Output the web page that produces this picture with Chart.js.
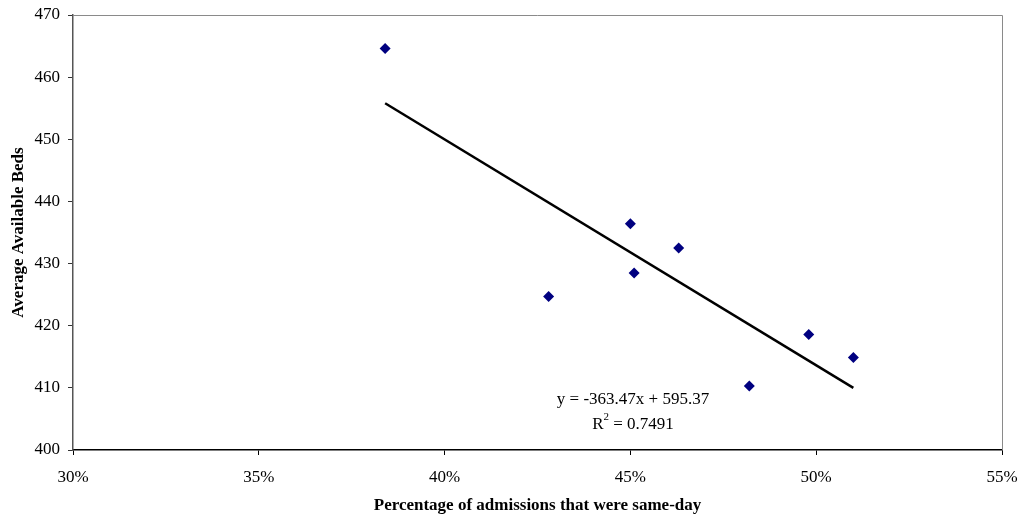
<!DOCTYPE html>
<html>
<head>
<meta charset="utf-8">
<script src="https://cdn.jsdelivr.net/npm/chart.js@4/dist/chart.umd.min.js"></script>
<style>
  html, body { margin: 0; padding: 0; background: #fff; }
  #wrap { width: 1021px; height: 517px; position: relative; }
</style>
</head>
<body>
<div id="wrap"><canvas id="chart"></canvas></div>
<script>
// share of same-day admissions (fraction) vs average available beds
const sameDayShare = [0.384, 0.428, 0.450, 0.451, 0.463, 0.482, 0.498, 0.510];
const availableBeds = [464.6, 424.7, 436.4, 428.5, 432.5, 410.3, 418.6, 414.9];

// linear trendline as reported
const slope = -363.47;
const intercept = 595.37;
const rSquared = '0.7491';

const xMin = 0.30, xMax = 0.55, xStep = 0.05;
const yMin = 400, yMax = 470, yStep = 10;

const serif = "'Liberation Serif', 'Times New Roman', serif";

const points = sameDayShare.map((x, i) => ({ x, y: availableBeds[i] }));
const lo = Math.min(...sameDayShare);
const hi = Math.max(...sameDayShare);
const trend = [lo, hi].map(x => ({ x, y: slope * x + intercept }));

// top and right frame of the plot area, plus the equation label
const framePlugin = {
  id: 'frame',
  afterDraw(chart) {
    const { ctx, chartArea: a, scales } = chart;
    ctx.save();
    ctx.strokeStyle = '#8a8a8a';
    ctx.lineWidth = 1;
    ctx.beginPath();
    ctx.moveTo(a.left, a.top + 0.5);
    ctx.lineTo(a.right + 0.5, a.top + 0.5);
    ctx.lineTo(a.right + 0.5, a.bottom);
    ctx.stroke();

    const cx = scales.x.getPixelForValue(0.4507);
    const y1 = scales.y.getPixelForValue(408.1);
    const y2 = scales.y.getPixelForValue(404.1);
    ctx.fillStyle = '#000';
    ctx.font = `17px ${serif}`;
    ctx.textAlign = 'center';
    ctx.textBaseline = 'middle';
    ctx.fillText(`y = ${slope}x + ${intercept}`, cx, y1);

    const left = 'R', right = ` = ${rSquared}`;
    const wL = ctx.measureText(left).width;
    const wR = ctx.measureText(right).width;
    ctx.font = `11px ${serif}`;
    const wS = ctx.measureText('2').width;
    const start = cx - (wL + wS + wR) / 2;
    ctx.textAlign = 'left';
    ctx.font = `17px ${serif}`;
    ctx.fillText(left, start, y2);
    ctx.fillText(right, start + wL + wS, y2);
    ctx.font = `11px ${serif}`;
    ctx.fillText('2', start + wL, y2 - 7);
    ctx.restore();
  }
};

new Chart(document.getElementById('chart'), {
  type: 'scatter',
  data: {
    datasets: [
      {
        data: points,
        pointStyle: 'rectRot',
        pointRadius: 5.5,
        pointHoverRadius: 5.5,
        backgroundColor: '#000080',
        borderColor: '#000080',
        borderWidth: 0,
        order: 1
      },
      {
        type: 'line',
        data: trend,
        borderColor: '#000',
        borderWidth: 2.5,
        pointRadius: 0,
        fill: false,
        order: 2
      }
    ]
  },
  options: {
    responsive: true,
    maintainAspectRatio: false,
    animation: false,
    layout: { padding: { top: 15, right: 19, left: 0, bottom: 0 } },
    plugins: { legend: { display: false }, tooltip: { enabled: false } },
    scales: {
      x: {
        type: 'linear',
        min: xMin,
        max: xMax,
        afterFit: s => { s.height = 67; s.paddingLeft = 0; s.paddingRight = 0; },
        ticks: {
          stepSize: xStep,
          padding: 12,
          color: '#000',
          font: { family: serif, size: 17 },
          callback: v => Math.round(v * 100) + '%'
        },
        grid: { drawOnChartArea: false, tickLength: 5, color: '#000' },
        border: { color: '#000', width: 1.5 },
        title: {
          display: true,
          text: 'Percentage of admissions that were same-day',
          color: '#000',
          font: { family: serif, size: 17, weight: 'bold' },
          padding: { top: 0, bottom: 1 }
        }
      },
      y: {
        min: yMin,
        max: yMax,
        afterFit: s => { s.width = 73; s.paddingTop = 0; s.paddingBottom = 0; },
        ticks: {
          stepSize: yStep,
          padding: 8,
          color: '#000',
          font: { family: serif, size: 17 }
        },
        grid: { drawOnChartArea: false, tickLength: 5, color: '#333' },
        border: { color: '#555', width: 1.5 },
        title: {
          display: true,
          text: 'Average Available Beds',
          color: '#000',
          font: { family: serif, size: 17, weight: 'bold' },
          padding: { top: 8, bottom: 0 }
        }
      }
    }
  },
  plugins: [framePlugin]
});
</script>
</body>
</html>
